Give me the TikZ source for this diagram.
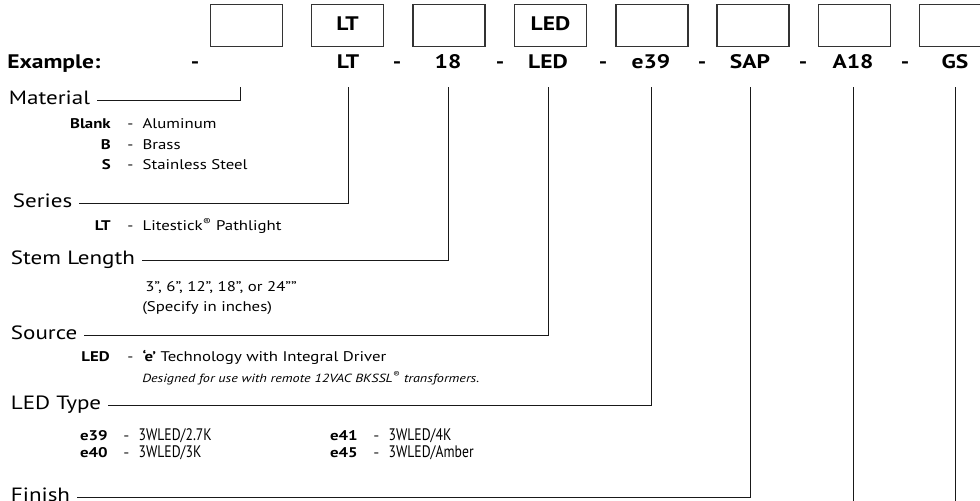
\documentclass[tikz,border=0pt]{standalone}
\usepackage{fontspec}
\setmainfont[FakeStretch=1.2]{PT Sans}
\newfontfamily\condfont[FakeStretch=0.82]{PT Sans}
\usepackage{tikz}
\usetikzlibrary{positioning}

\begin{document}
\begin{tikzpicture}[
    x=0.75pt, y=-0.75pt,
    codebox/.style={draw=black!80, line width=0.8pt, minimum width=54pt, minimum height=31.5pt, inner sep=0pt, text height=0.7em, text depth=0pt, font=\fontsize{14.7}{16}\selectfont\bfseries},
    code/.style={inner sep=0pt, text height=0.7em, text depth=0pt, font=\fontsize{14.7}{16}\selectfont\bfseries},
    cat/.style={anchor=west, inner xsep=5pt, inner ysep=0pt, text height=0.7em, text depth=0pt, font=\fontsize{14.4}{16}\selectfont},
    key/.style={anchor=east, inner sep=0pt, text height=0.7em, text depth=0pt, font=\fontsize{10.5}{12}\selectfont\bfseries},
    desc/.style={anchor=west, inner sep=0pt, text height=0.7em, text depth=0pt, font=\fontsize{10.5}{12}\selectfont},
    lead/.style={draw=black!90, line width=0.75pt}
]
\useasboundingbox (0,0) rectangle (980,500);

% code boxes
\node[codebox] (box1) at (246.5,25.5) {};
\node[codebox] (box2) at (347.5,25.5) {LT};
\node[codebox] (box3) at (449,25.5) {};
\node[codebox] (box4) at (550.5,25.5) {LED};
\node[codebox] (box5) at (652,25.5) {};
\node[codebox] (box6) at (753,25.5) {};
\node[codebox] (box7) at (854.5,25.5) {};
\node[codebox] (box8) at (955.5,25.5) {};

% example row
\node[code, anchor=west] (ex) at (7,64) {Example:};
\node[code] (d1) at (195,64) {-};
\coordinate (cmat) at (240,67);
\node[code] (cLT) at (348,64) {LT};
\node[code] (d2) at (397,64) {-};
\node[code] (c18) at (448,64) {18};
\node[code] (d3) at (500,64) {-};
\node[code] (cLED) at (548,64) {LED};
\node[code] (d4) at (603,64) {-};
\node[code] (ce39) at (651,64) {e39};
\node[code] (d5) at (702,64) {-};
\node[code] (cSAP) at (750,64) {SAP};
\node[code] (d6) at (803,64) {-};
\node[code] (cA18) at (853,64) {A18};
\node[code] (d7) at (905,64) {-};
\node[code] (cGS) at (955,64) {GS};

% categories
\node[cat] (mat) at (2,100) {Material};
\node[cat] (ser) at (6,203) {Series};
\node[cat] (stem) at (4,260) {Stem Length};
\node[cat] (src) at (4,335) {Source};
\node[cat] (ledt) at (4,405) {LED Type};
\node[cat] (fin) at (4,497) {Finish};

% options
\node[key] (kblank) at (111,124) {Blank};
\node[desc] (tblank) at (127,124) {-\hspace{7pt}Aluminum};
\node[key] (kb) at (111,145) {B};
\node[desc] (tb) at (127,145) {-\hspace{7pt}Brass};
\node[key] (ks) at (111,165) {S};
\node[desc] (ts) at (127,165) {-\hspace{7pt}Stainless Steel};
\node[key] (klt) at (111,226) {LT};
\node[desc] (tlt) at (127,226) {-\hspace{7pt}Litestick\textsuperscript{®} Pathlight};
\node[desc] (len) at (145,287) {3", 6", 12", 18", or 24""};
\node[desc] (spec) at (142,307) {(Specify in inches)};
\node[key] (kled) at (110,357) {LED};
\node[desc] (tled) at (127,357) {-\hspace{7pt}\textbf{‘e’} Technology with Integral Driver};
\node[desc, font=\fontsize{8.85}{10}\selectfont\itshape] (note) at (142,378) {Designed for use with remote 12VAC BKSSL\textsuperscript{®} transformers.};
\node[key] (k39) at (108,436) {e39};
\node[desc] (t39) at (123,436) {-\hspace{7pt}{\condfont\fontsize{12.5}{14}\selectfont 3WLED/2.7K}};
\node[key] (k40) at (108,453) {e40};
\node[desc] (t40) at (123,453) {-\hspace{7pt}{\condfont\fontsize{12.5}{14}\selectfont 3WLED/3K}};
\node[key] (k41) at (358,436) {e41};
\node[desc] (t41) at (373,436) {-\hspace{7pt}{\condfont\fontsize{12.5}{14}\selectfont 3WLED/4K}};
\node[key] (k45) at (358,453) {e45};
\node[desc] (t45) at (373,453) {-\hspace{7pt}{\condfont\fontsize{12.5}{14}\selectfont 3WLED/Amber}};

% leader lines
\coordinate (endA) at (853,505);
\coordinate (endG) at (955,505);
\draw[lead] (cmat) ++(0,20) |- (mat.east);
\draw[lead] (cLT) ++(0,23) |- (ser.east);
\draw[lead] (c18) ++(0,23) |- (stem.east);
\draw[lead] (cLED) ++(0,23) |- (src.east);
\draw[lead] (ce39) ++(0,23) |- (ledt.east);
\draw[lead] (cSAP) ++(0,23) |- (fin.east);
\draw[lead] (cA18) ++(0,23) -- (endA);
\draw[lead] (cGS) ++(0,23) -- (endG);
\end{tikzpicture}
\end{document}
